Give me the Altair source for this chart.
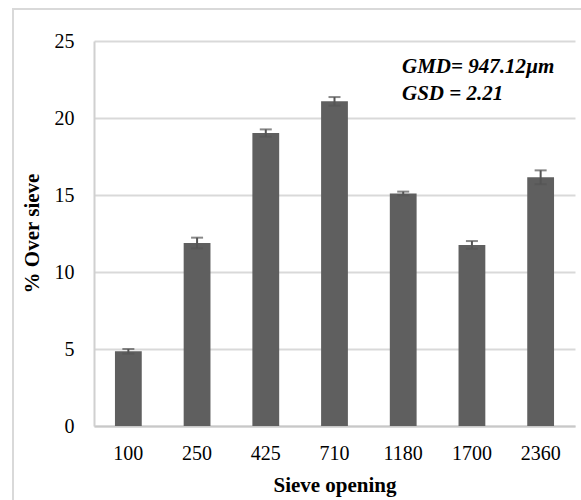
import altair as alt
import pandas as pd

# Sieve openings (µm), mean % retained on each sieve and its error
sieves = ["100", "250", "425", "710", "1180", "1700", "2360"]
percent_over = [4.85, 11.88, 19.02, 21.08, 15.1, 11.76, 16.15]
error = [0.15, 0.35, 0.24, 0.28, 0.12, 0.25, 0.45]

df = pd.DataFrame({"sieve": sieves, "pct": percent_over, "err": error})
df["lo"] = df["pct"] - df["err"]
df["hi"] = df["pct"] + df["err"]

FONT = "Liberation Serif"
BAR = "#5f5f5f"
ERR = "#555555"

x_enc = alt.X(
    "sieve:N",
    sort=sieves,
    scale=alt.Scale(paddingInner=0.61, paddingOuter=0.305),
    axis=alt.Axis(
        title="Sieve opening",
        labelAngle=0,
        labelFont=FONT,
        labelFontSize=20,
        labelColor="#000000",
        labelPadding=17,
        ticks=False,
        domainColor="#c8c8c8",
        domainWidth=2,
        titleFont=FONT,
        titleFontSize=21,
        titleFontWeight="bold",
        titleColor="#000000",
        titleBaseline="alphabetic",
        titleY=65,
    ),
)

bars = alt.Chart(df).mark_bar(color=BAR).encode(
    x=x_enc,
    y=alt.Y(
        "pct:Q",
        scale=alt.Scale(domain=[0, 25], nice=False),
        axis=alt.Axis(
            title="% Over sieve",
            values=[0, 5, 10, 15, 20, 25],
            labelFont=FONT,
            labelFontSize=20,
            labelColor="#000000",
            labelPadding=20,
            ticks=False,
            domainColor="#d0d0d0",
            domainWidth=2,
            gridColor="#d9d9d9",
            gridWidth=2,
            titleFont=FONT,
            titleFontSize=21,
            titleFontWeight="bold",
            titleColor="#000000",
            titleX=-62,
            titleY=192,
            titleBaseline="middle",
        ),
    ),
)

stems = alt.Chart(df).mark_rule(color=ERR, strokeWidth=2).encode(
    x=alt.X("sieve:N", sort=sieves), y="lo:Q", y2="hi:Q"
)
caps_hi = alt.Chart(df).mark_tick(color=ERR, size=12, thickness=2, orient="horizontal").encode(
    x=alt.X("sieve:N", sort=sieves), y="hi:Q"
)
caps_lo = alt.Chart(df).mark_tick(color=ERR, size=12, thickness=2, orient="horizontal").encode(
    x=alt.X("sieve:N", sort=sieves), y="lo:Q"
)

note = alt.Chart(pd.DataFrame({"k": [0]})).mark_text(
    text=["GMD= 947.12µm", "GSD = 2.21"],
    font=FONT,
    fontSize=21,
    fontWeight="bold",
    fontStyle="italic",
    align="left",
    baseline="top",
    lineHeight=27,
    color="#000000",
).encode(x=alt.value(308), y=alt.value(15))

# light frame around the whole figure
frame = alt.Chart(pd.DataFrame({"k": [0]})).mark_rect(
    fill=None, stroke="#d9d9d9", strokeWidth=2, clip=False
).encode(
    x=alt.value(-81), x2=alt.value(520), y=alt.value(-32), y2=alt.value(520)
)

chart = (
    alt.layer(frame, bars, stems, caps_hi, caps_lo, note)
    .properties(
        width=481,
        height=385,
        autosize=alt.AutoSizeParams(type="none"),
        padding={"left": 94, "top": 41, "right": 6, "bottom": 74},
        background="#ffffff",
    )
    .configure_view(stroke=None)
)

chart.save("out.html", embed_options={"renderer": "svg", "actions": False})
